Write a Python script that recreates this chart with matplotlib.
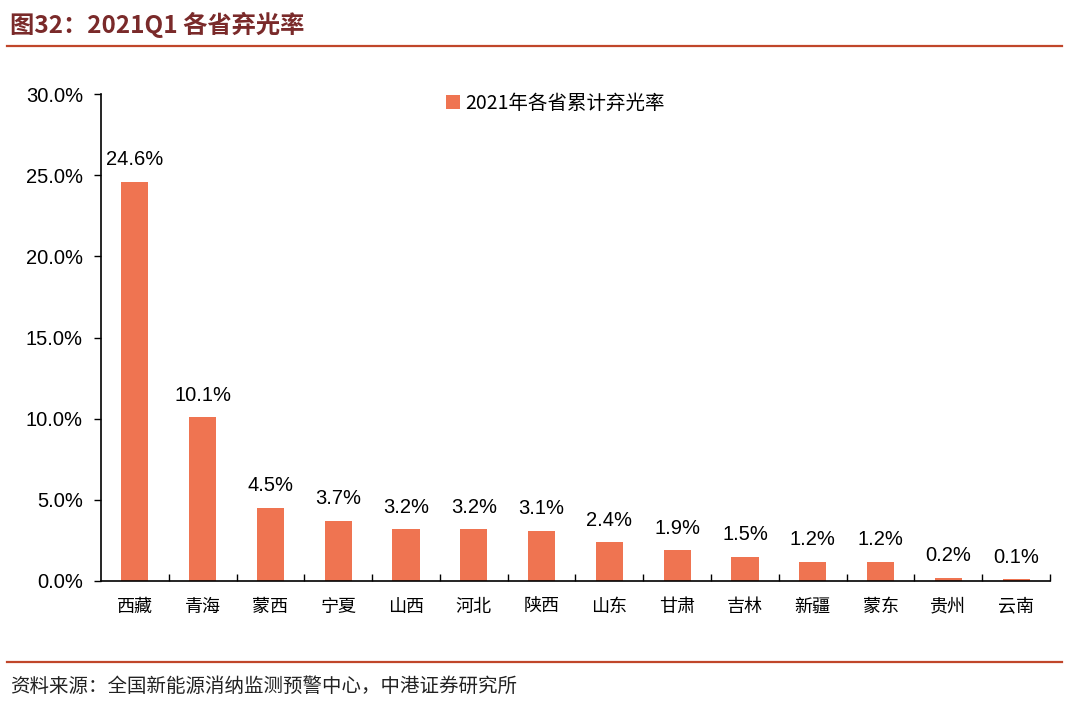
import matplotlib
matplotlib.use("Agg")
import matplotlib.pyplot as plt
from matplotlib.ticker import FuncFormatter, FixedLocator
from matplotlib.lines import Line2D

provinces = ["西藏", "青海", "蒙西", "宁夏", "山西", "河北", "陕西", "山东", "甘肃", "吉林", "新疆", "蒙东", "贵州", "云南"]
curtail_rate = [24.6, 10.1, 4.5, 3.7, 3.2, 3.2, 3.1, 2.4, 1.9, 1.5, 1.2, 1.2, 0.2, 0.1]
yticks = [0, 5, 10, 15, 20, 25, 30]
series_name = "2021年各省累计弃光率"
title = "图32：2021Q1 各省弃光率"
source = "资料来源：全国新能源消纳监测预警中心，中港证券研究所"

cjk = ["Noto Sans CJK SC", "DejaVu Sans"]
latin = ["Liberation Sans", "Noto Sans CJK SC"]
plt.rcParams["font.family"] = latin

bar_color = "#EF7451"
line_color = "#C0462A"
title_color = "#7A2A2A"

fig = plt.figure(figsize=(10.8, 7.02), dpi=100)
ax = fig.add_axes([101/1080, 1-581/702, 949/1080, 487/702])

x = list(range(len(provinces)))
bars = ax.bar(x, curtail_rate, width=0.40, color=bar_color, label=series_name, zorder=2)
ax.set_xlim(-0.5, len(provinces) - 0.5)
ax.set_ylim(0, 30)
ax.yaxis.set_major_locator(FixedLocator(yticks))
ax.yaxis.set_major_formatter(FuncFormatter(lambda v, p: f"{v:.1f}%"))
ax.tick_params(axis="y", direction="out", length=5, width=1, labelsize=14.5, pad=8, colors="#000000")
ax.set_xticks(x)
ax.set_xticklabels(provinces, fontfamily=cjk, fontsize=13)
ax.tick_params(axis="x", length=0, pad=12)
# minor ticks between categories, pointing inward
ax.set_xticks([i + 0.5 for i in range(len(provinces))], minor=True)
ax.tick_params(axis="x", which="minor", direction="in", length=5, width=1)
for s in ["top", "right"]:
    ax.spines[s].set_visible(False)
for s in ["left", "bottom"]:
    ax.spines[s].set_linewidth(1.2)

for xi, v in zip(x, curtail_rate):
    ax.annotate(f"{v:.1f}%", (xi, v), xytext=(0, 9), textcoords="offset points",
                ha="center", va="bottom", fontsize=14.5)

leg = ax.legend(loc="upper left", bbox_to_anchor=(0.345, 1.038), frameon=False,
                prop={"family": cjk, "size": 14}, handlelength=0.7, handleheight=0.7,
                handletextpad=0.3)

fig.text(10/1080, 1-25/702, title, fontfamily=cjk, fontsize=17.5, fontweight="bold",
         color=title_color, va="center", ha="left")
fig.add_artist(Line2D([7/1080, 1062/1080], [1-46/702, 1-46/702], color=line_color, lw=1.6))
fig.add_artist(Line2D([7/1080, 1062/1080], [1-662/702, 1-662/702], color=line_color, lw=1.6))
fig.text(10/1080, 1-686/702, source, fontfamily=cjk, fontsize=14, color="#222222",
         va="center", ha="left", style="italic")

fig.savefig("out.png", dpi=100)
